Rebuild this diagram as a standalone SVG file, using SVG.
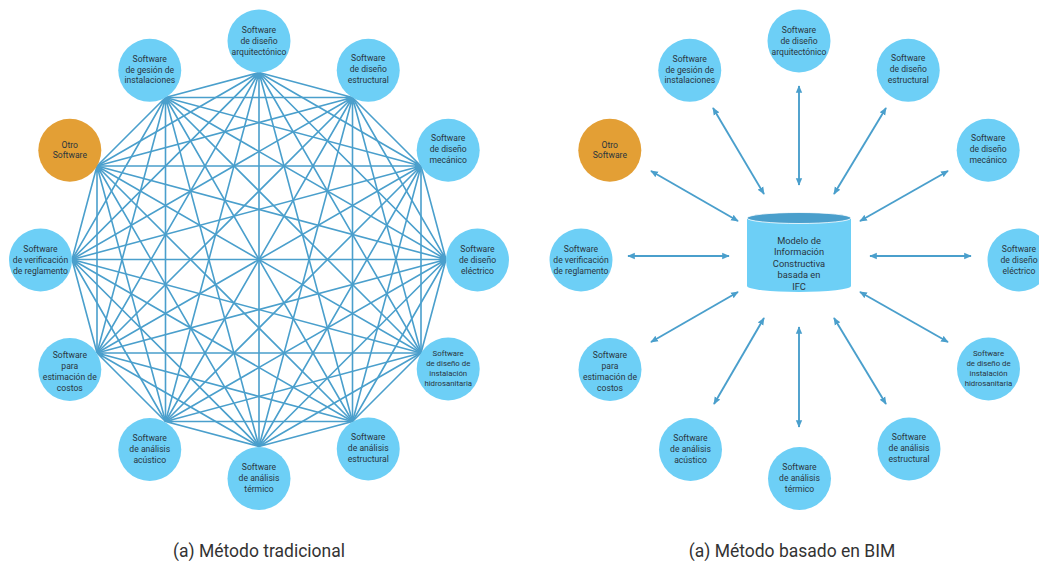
<svg xmlns="http://www.w3.org/2000/svg" width="1039" height="561" viewBox="0 0 1039 561">
  <defs>
    <style>
      .node { fill: #6dcff6; }
      .other { fill: #e39f35; }
      .lbl { font-family: Roboto, "Liberation Sans", sans-serif; font-size: 8.6px; fill: #2a353e; text-anchor: middle; }
      .lbl-sm { font-size: 7.8px; }
      .mesh { fill: none; stroke: #4a9fcc; stroke-width: 1.6; }
      .link { fill: none; stroke: #4a9fcc; stroke-width: 1.9; marker-start: url(#tip); marker-end: url(#tip); }
      .hub-body { fill: #6dcff6; }
      .hub-top { fill: #4a9fcc; stroke: #ffffff; stroke-width: 0.8; }
      .hub-lbl { font-family: Roboto, "Liberation Sans", sans-serif; font-size: 9.3px; fill: #2a353e; text-anchor: middle; }
      .caption { font-family: Roboto, "Liberation Sans", sans-serif; font-size: 17.5px; fill: #333333; text-anchor: middle; }
    </style>
    <marker id="tip" viewBox="0 0 10 10" refX="9" refY="5" markerWidth="4" markerHeight="4" orient="auto-start-reverse" markerUnits="strokeWidth">
      <path d="M0 0.8 L10 5 L0 9.2 Z" fill="#4a9fcc"/>
    </marker>
  </defs>

  <rect width="1039" height="561" fill="#ffffff"/>

  <!-- Traditional method: every tool linked to every other tool -->
  <g id="connectors-traditional" class="mesh">
    <path d="M446 259.5L421 166M446 259.5L352.5 97.5M446 259.5L259 72.5M446 259.5L165.5 97.5M446 259.5L97 166M446 259.5L72 259.5M446 259.5L97 353M446 259.5L165.5 421.5M446 259.5L259 446.5M446 259.5L352.5 421.5M446 259.5L421 353"/>
    <path d="M421 166L352.5 97.5M421 166L259 72.5M421 166L165.5 97.5M421 166L97 166M421 166L72 259.5M421 166L97 353M421 166L165.5 421.5M421 166L259 446.5M421 166L352.5 421.5M421 166L421 353"/>
    <path d="M352.5 97.5L259 72.5M352.5 97.5L165.5 97.5M352.5 97.5L97 166M352.5 97.5L72 259.5M352.5 97.5L97 353M352.5 97.5L165.5 421.5M352.5 97.5L259 446.5M352.5 97.5L352.5 421.5M352.5 97.5L421 353"/>
    <path d="M259 72.5L165.5 97.5M259 72.5L97 166M259 72.5L72 259.5M259 72.5L97 353M259 72.5L165.5 421.5M259 72.5L259 446.5M259 72.5L352.5 421.5M259 72.5L421 353"/>
    <path d="M165.5 97.5L97 166M165.5 97.5L72 259.5M165.5 97.5L97 353M165.5 97.5L165.5 421.5M165.5 97.5L259 446.5M165.5 97.5L352.5 421.5M165.5 97.5L421 353"/>
    <path d="M97 166L72 259.5M97 166L97 353M97 166L165.5 421.5M97 166L259 446.5M97 166L352.5 421.5M97 166L421 353"/>
    <path d="M72 259.5L97 353M72 259.5L165.5 421.5M72 259.5L259 446.5M72 259.5L352.5 421.5M72 259.5L421 353"/>
    <path d="M97 353L165.5 421.5M97 353L259 446.5M97 353L352.5 421.5M97 353L421 353"/>
    <path d="M165.5 421.5L259 446.5M165.5 421.5L352.5 421.5M165.5 421.5L421 353"/>
    <path d="M259 446.5L352.5 421.5M259 446.5L421 353"/>
    <path d="M352.5 421.5L421 353"/>
  </g>

  <!-- Traditional method: tools -->
  <g id="a-arquitectonico">
    <circle class="node" cx="259" cy="41" r="31.5"/>
    <text class="lbl" x="259" y="32.5">Software<tspan x="259" dy="11">de diseño</tspan><tspan x="259" dy="11">arquitectónico</tspan></text>
  </g>
  <g id="a-gestion">
    <circle class="node" cx="149.75" cy="70.3" r="31.5"/>
    <text class="lbl" x="149.75" y="61.8">Software<tspan x="149.75" dy="11">de gesión de</tspan><tspan x="149.75" dy="10.5">instalaciones</tspan></text>
  </g>
  <g id="a-estructural">
    <circle class="node" cx="368.25" cy="70.3" r="31.5"/>
    <text class="lbl" x="368.25" y="61">Software<tspan x="368.25" dy="11.2">de diseño</tspan><tspan x="368.25" dy="11">estructural</tspan></text>
  </g>
  <g id="a-otro">
    <circle class="other" cx="69.8" cy="150.25" r="31.5"/>
    <text class="lbl" x="69.8" y="147.5">Otro<tspan x="69.8" dy="10">Software</tspan></text>
  </g>
  <g id="a-mecanico">
    <circle class="node" cx="448.2" cy="150.25" r="31.5"/>
    <text class="lbl" x="448.2" y="141">Software<tspan x="448.2" dy="11.2">de diseño</tspan><tspan x="448.2" dy="11">mecánico</tspan></text>
  </g>
  <g id="a-verificacion">
    <circle class="node" cx="40.5" cy="260" r="31.5"/>
    <text class="lbl" x="40.5" y="251.5">Software<tspan x="40.5" dy="11">de verificación</tspan><tspan x="40.5" dy="11">de reglamento</tspan></text>
  </g>
  <g id="a-electrico">
    <circle class="node" cx="477.5" cy="260" r="31.5"/>
    <text class="lbl" x="477.5" y="251.5">Software<tspan x="477.5" dy="11">de diseño</tspan><tspan x="477.5" dy="11">eléctrico</tspan></text>
  </g>
  <g id="a-estimacion">
    <circle class="node" cx="69.8" cy="369.5" r="31.5"/>
    <text class="lbl" x="69.8" y="357.5">Software<tspan x="69.8" dy="11">para</tspan><tspan x="69.8" dy="11">estimación de</tspan><tspan x="69.8" dy="11">costos</tspan></text>
  </g>
  <g id="a-hidrosanitaria">
    <circle class="node" cx="448.2" cy="369" r="31.5"/>
    <text class="lbl lbl-sm" x="448.2" y="356">Software<tspan x="448.2" dy="10">de diseño de</tspan><tspan x="448.2" dy="10">instalación</tspan><tspan x="448.2" dy="10">hidrosanitaria</tspan></text>
  </g>
  <g id="a-acustico">
    <circle class="node" cx="149.75" cy="449.5" r="31.5"/>
    <text class="lbl" x="149.75" y="441">Software<tspan x="149.75" dy="11">de análisis</tspan><tspan x="149.75" dy="11">acústico</tspan></text>
  </g>
  <g id="a-analisis-estructural">
    <circle class="node" cx="368.25" cy="449" r="31.5"/>
    <text class="lbl" x="368.25" y="440">Software<tspan x="368.25" dy="11">de análisis</tspan><tspan x="368.25" dy="11">estructural</tspan></text>
  </g>
  <g id="a-termico">
    <circle class="node" cx="259" cy="478.5" r="31.5"/>
    <text class="lbl" x="259" y="470">Software<tspan x="259" dy="11">de análisis</tspan><tspan x="259" dy="11">térmico</tspan></text>
  </g>

  <text class="caption" x="259" y="557">(a) Método tradicional</text>

  <!-- BIM method: every tool exchanges data with the shared model -->
  <g id="connectors-bim">
    <path class="link" d="M799 185L799 86"/>
    <path class="link" d="M764 194L713 108"/>
    <path class="link" d="M834 194L886 108"/>
    <path class="link" d="M738 221L651 171"/>
    <path class="link" d="M860 221L948 171"/>
    <path class="link" d="M729 256L628 256"/>
    <path class="link" d="M870 256L971 256"/>
    <path class="link" d="M738 292L651 342"/>
    <path class="link" d="M860 292L948 342"/>
    <path class="link" d="M764 318L714 404"/>
    <path class="link" d="M834 318L886 404"/>
    <path class="link" d="M799 327L799 427"/>
  </g>

  <g id="b-modelo-ifc">
    <path class="hub-body" d="M747 218L747 286A52 6 0 0 0 851 286L851 218Z"/>
    <ellipse class="hub-top" cx="799" cy="218" rx="52" ry="5.5"/>
    <text class="hub-lbl" x="799" y="243.5">Modelo de<tspan x="799" dy="11.5">Información</tspan><tspan x="799" dy="11.5">Constructiva</tspan><tspan x="799" dy="11.5">basada en</tspan><tspan x="799" dy="11.5">IFC</tspan></text>
  </g>

  <g id="b-arquitectonico">
    <circle class="node" cx="799" cy="41" r="31.5"/>
    <text class="lbl" x="799" y="32.5">Software<tspan x="799" dy="11">de diseño</tspan><tspan x="799" dy="11">arquitectónico</tspan></text>
  </g>
  <g id="b-gestion">
    <circle class="node" cx="689.75" cy="70.3" r="31.5"/>
    <text class="lbl" x="689.75" y="61.8">Software<tspan x="689.75" dy="11">de gesión de</tspan><tspan x="689.75" dy="10.5">instalaciones</tspan></text>
  </g>
  <g id="b-estructural">
    <circle class="node" cx="908.25" cy="70.3" r="31.5"/>
    <text class="lbl" x="908.25" y="61">Software<tspan x="908.25" dy="11.2">de diseño</tspan><tspan x="908.25" dy="11">estructural</tspan></text>
  </g>
  <g id="b-otro">
    <circle class="other" cx="609.8" cy="150.25" r="31.5"/>
    <text class="lbl" x="609.8" y="147.5">Otro<tspan x="609.8" dy="10">Software</tspan></text>
  </g>
  <g id="b-mecanico">
    <circle class="node" cx="988.2" cy="150.25" r="31.5"/>
    <text class="lbl" x="988.2" y="141">Software<tspan x="988.2" dy="11.2">de diseño</tspan><tspan x="988.2" dy="11">mecánico</tspan></text>
  </g>
  <g id="b-verificacion">
    <circle class="node" cx="581" cy="260" r="31.5"/>
    <text class="lbl" x="581" y="251.5">Software<tspan x="581" dy="11">de verificación</tspan><tspan x="581" dy="11">de reglamento</tspan></text>
  </g>
  <g id="b-electrico">
    <circle class="node" cx="1019" cy="260" r="31.5"/>
    <text class="lbl" x="1019" y="251.5">Software<tspan x="1019" dy="11">de diseño</tspan><tspan x="1019" dy="11">eléctrico</tspan></text>
  </g>
  <g id="b-estimacion">
    <circle class="node" cx="610" cy="369.5" r="31.5"/>
    <text class="lbl" x="610" y="357.5">Software<tspan x="610" dy="11">para</tspan><tspan x="610" dy="11">estimación de</tspan><tspan x="610" dy="11">costos</tspan></text>
  </g>
  <g id="b-hidrosanitaria">
    <circle class="node" cx="988.5" cy="369" r="31.5"/>
    <text class="lbl lbl-sm" x="988.5" y="356">Software<tspan x="988.5" dy="10">de diseño de</tspan><tspan x="988.5" dy="10">instalación</tspan><tspan x="988.5" dy="10">hidrosanitaria</tspan></text>
  </g>
  <g id="b-acustico">
    <circle class="node" cx="690.5" cy="449.5" r="31.5"/>
    <text class="lbl" x="690.5" y="441">Software<tspan x="690.5" dy="11">de análisis</tspan><tspan x="690.5" dy="11">acústico</tspan></text>
  </g>
  <g id="b-analisis-estructural">
    <circle class="node" cx="909" cy="449" r="31.5"/>
    <text class="lbl" x="909" y="440">Software<tspan x="909" dy="11">de análisis</tspan><tspan x="909" dy="11">estructural</tspan></text>
  </g>
  <g id="b-termico">
    <circle class="node" cx="799.5" cy="478.5" r="31.5"/>
    <text class="lbl" x="799.5" y="470">Software<tspan x="799.5" dy="11">de análisis</tspan><tspan x="799.5" dy="11">térmico</tspan></text>
  </g>

  <text class="caption" x="792" y="557">(a) Método basado en BIM</text>
</svg>
